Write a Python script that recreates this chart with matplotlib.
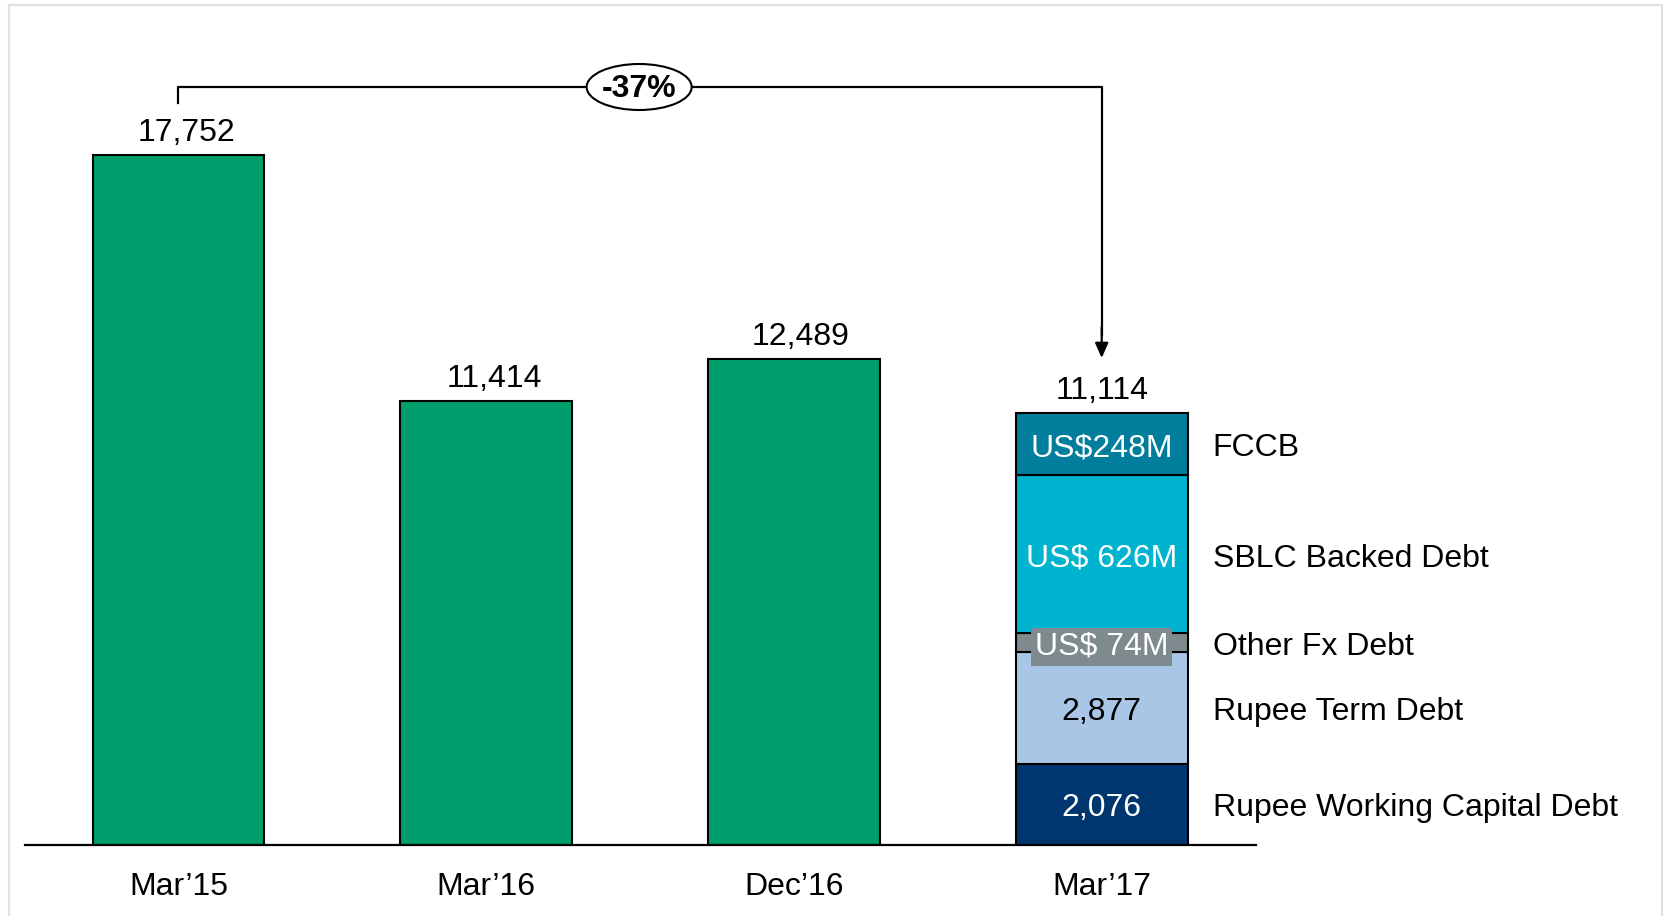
import matplotlib
matplotlib.use("Agg")
import matplotlib.pyplot as plt
from matplotlib.patches import Ellipse, Rectangle

plt.rcParams['font.family'] = ['Liberation Sans', 'DejaVu Sans']

# ---- data ----
categories = ["Mar\u201915", "Mar\u201916", "Dec\u201916", "Mar\u201917"]
totals = [17752, 11414, 12489, 11114]
segment_names = ["Rupee Working Capital Debt", "Rupee Term Debt", "Other Fx Debt",
                 "SBLC Backed Debt", "FCCB"]
segment_values = [2076, 2877, 481, 4068, 1612]
segment_labels = ["2,076", "2,877", "US$ 74M", "US$ 626M", "US$248M"]
change_label = "-37%"

# ---- styles ----
green = "#009E6C"
seg_colors = ["#003670", "#A9C6E6", "#7F8A8F", "#00B4D0", "#007E9C"]
seg_text_colors = ["white", "black", "white", "white", "white"]

W, H = 1667, 916
fig = plt.figure(figsize=(W / 100, H / 100), dpi=100)
fig.patch.set_facecolor("white")

# light border
fig.add_artist(Rectangle((9 / W, -0.01), (1662 - 9) / W, (916 - 5) / H + 0.01,
                         transform=fig.transFigure, fill=False,
                         edgecolor="#DDE2E8", linewidth=1.6))

base_px = 844.5
top_px = 5
ax_left, ax_right = 24.5, 1255.6
ax = fig.add_axes([ax_left / W, (H - base_px) / H, (ax_right - ax_left) / W,
                   (base_px - top_px) / H])
px_per_unit = (844.5 - 155.0) / totals[0]
ymax = (base_px - top_px) / px_per_unit
ax.set_xlim(-0.5, 3.5)
ax.set_ylim(0, ymax)
for s in ["top", "right", "left"]:
    ax.spines[s].set_visible(False)
ax.spines["bottom"].set_linewidth(1.6)
ax.set_yticks([])
fs = 23
ax.set_xticks(range(len(categories)))
ax.set_xticklabels(categories, fontsize=fs)
ax.tick_params(axis="x", length=0, pad=19.5)

bw = 0.558
dy = -3  # points, vertical centring correction
# green bars
for i in range(3):
    ax.bar(i, totals[i], width=bw, color=green, edgecolor="black", linewidth=1.5, zorder=2)

# stacked bar
bottom = 0
for v, c, lab, tc, name in zip(segment_values, seg_colors, segment_labels,
                               seg_text_colors, segment_names):
    ax.bar(3, v, width=bw, bottom=bottom, color=c, edgecolor="black", linewidth=1.5, zorder=2)
    mid = bottom + v / 2
    kw = dict(xytext=(0, dy), textcoords="offset points", ha="center", va="center",
              color=tc, fontsize=fs, zorder=4)
    if lab == "US$ 74M":
        kw["bbox"] = dict(boxstyle="square,pad=0.12", fc=c, ec="none")
    ax.annotate(lab, (3, mid), **kw)
    ax.annotate(name, (3.36, mid), xytext=(0, dy), textcoords="offset points",
                ha="left", va="center", color="black", fontsize=fs,
                annotation_clip=False)
    bottom += v

# total labels
x_shift = [6, 6, 5, 0]
for i, t in enumerate(totals):
    ax.annotate(f"{t:,}", (i, t), xytext=(x_shift[i], 16), textcoords="offset points",
                ha="center", va="center", fontsize=fs)

# bracket annotation
y_line = (base_px - 87) / px_per_unit
y_tick = (base_px - 103) / px_per_unit
y_tip = (base_px - 358) / px_per_unit
ax.plot([0, 0, 3.0, 3.0], [y_tick, y_line, y_line, y_tip + 600],
        color="black", linewidth=1.6, clip_on=False, zorder=3)
ax.annotate("", xy=(3.0, y_tip), xytext=(3.0, y_tip + 800),
            arrowprops=dict(arrowstyle="-|>,head_length=0.9,head_width=0.4",
                            color="black", lw=1.6, shrinkA=0, shrinkB=0))
ell_x = (640 - 178.6) / 308.2
ax.add_patch(Ellipse((ell_x, y_line), 105 / 307.8, 46 / px_per_unit,
                     facecolor="white", edgecolor="black", linewidth=1.5,
                     zorder=4, clip_on=False))
ax.annotate(change_label, (ell_x, y_line), xytext=(0, -1.5), textcoords="offset points",
            ha="center", va="center", fontsize=23, fontweight="bold", zorder=5)

fig.savefig("out.png", dpi=100)
